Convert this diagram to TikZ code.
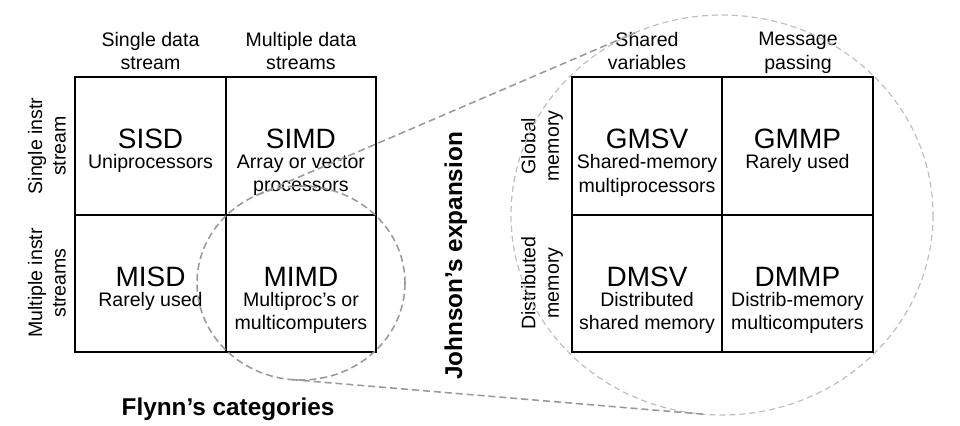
\documentclass[tikz,border=0pt]{standalone}
\usepackage{fontspec}
\setmainfont{Liberation Sans}
\usetikzlibrary{positioning}
\tikzset{cell/.style={draw, line width=1.4pt, minimum width=3.76cm, minimum height=3.43cm, inner sep=0pt}}
\tikzset{ttl/.style={font=\fontsize{19.9pt}{22pt}\selectfont, inner sep=0pt, anchor=base}}
\tikzset{sub/.style={font=\fontsize{13.9pt}{16.7pt}\selectfont, align=center, inner sep=0pt, anchor=north}}
\tikzset{side/.style={font=\fontsize{13.9pt}{16.7pt}\selectfont, align=center, inner sep=0pt, rotate=90}}
\tikzset{caption/.style={font=\bfseries\fontsize{17.3pt}{20pt}\selectfont, inner sep=0pt, anchor=base}}
\tikzset{zoomline/.style={draw=black!40, line width=1.1pt, dash pattern=on 5pt off 2.8pt}}
\tikzset{bigzoom/.style={draw=black!25, line width=0.85pt, dash pattern=on 4.3pt off 2.8pt}}

\begin{document}
\begin{tikzpicture}[x=0.025cm, y=-0.025cm]
\useasboundingbox (0,0) rectangle (960,426);

\begin{scope}[on grid]
% Flynn's grid
\node[cell] (sisd) at (150.5,146) {};
\node[cell, right=3.76cm of sisd] (simd) {};
\node[cell, below=3.43cm of sisd] (misd) {};
\node[cell, right=3.76cm of misd] (mimd) {};

% Johnson's grid
\node[cell] (gmsv) at (647,146) {};
\node[cell, right=3.76cm of gmsv] (gmmp) {};
\node[cell, below=3.43cm of gmsv] (dmsv) {};
\node[cell, right=3.76cm of dmsv] (dmmp) {};
\end{scope}

\node[ttl] (sisd-t) at ([yshift=-0.07cm]sisd.center) {SISD};
\node[sub] (sisd-s) at ([yshift=-0.21cm]sisd.center) {Uniprocessors};
\node[ttl] (simd-t) at ([yshift=-0.07cm]simd.center) {SIMD};
\node[sub] (simd-s) at ([yshift=-0.21cm]simd.center) {Array or vector\\processors};
\node[ttl] (misd-t) at ([yshift=-0.07cm]misd.center) {MISD};
\node[sub] (misd-s) at ([yshift=-0.21cm]misd.center) {Rarely used};
\node[ttl] (mimd-t) at ([yshift=-0.07cm]mimd.center) {MIMD};
\node[sub] (mimd-s) at ([yshift=-0.21cm]mimd.center) {Multiproc’s or\\multicomputers};

\node[ttl] (gmsv-t) at ([yshift=-0.07cm]gmsv.center) {GMSV};
\node[sub] (gmsv-s) at ([yshift=-0.21cm]gmsv.center) {Shared-memory\\multiprocessors};
\node[ttl] (gmmp-t) at ([yshift=-0.07cm]gmmp.center) {GMMP};
\node[sub] (gmmp-s) at ([yshift=-0.21cm]gmmp.center) {Rarely used};
\node[ttl] (dmsv-t) at ([yshift=-0.07cm]dmsv.center) {DMSV};
\node[sub] (dmsv-s) at ([yshift=-0.21cm]dmsv.center) {Distributed\\shared memory};
\node[ttl] (dmmp-t) at ([yshift=-0.07cm]dmmp.center) {DMMP};
\node[sub] (dmmp-s) at ([yshift=-0.21cm]dmmp.center) {Distrib-memory\\multicomputers};

% column and row headings
\node[sub] (sds) at (150.5,32) {Single data\\stream};
\node[sub] (mds) at (301,32) {Multiple data\\streams};
\node[sub] (shv) at (647,32) {Shared\\variables};
\node[sub] (msp) at (798,32) {Message\\passing};
\node[side] (sis) at (47,146) {Single instr\\stream};
\node[side] (mis) at (47,283) {Multiple instr\\streams};
\node[side] (glm) at (542,146) {Global\\memory};
\node[side] (dsm) at (542,283) {Distributed\\memory};

\node[caption] (flynn) at (228,415) {Flynn’s categories};
\node[caption, rotate=90] (johnson) at (462,256) {Johnson’s expansion};

% magnifier
\coordinate (lens) at (301,283);
\coordinate (view) at (722,215);
\coordinate (lens-top) at (257.5,194.9);
\coordinate (view-top) at (635,32.8);
\coordinate (lens-bot) at (291.7,379.6);
\coordinate (view-bot) at (703.4,414.2);
\draw[bigzoom] (view) ellipse [x radius=211, y radius=200];
\draw[zoomline] (lens) ellipse [x radius=104, y radius=97];
\draw[zoomline] (lens-top) -- (view-top);
\draw[zoomline] (lens-bot) -- (view-bot);
\end{tikzpicture}
\end{document}
